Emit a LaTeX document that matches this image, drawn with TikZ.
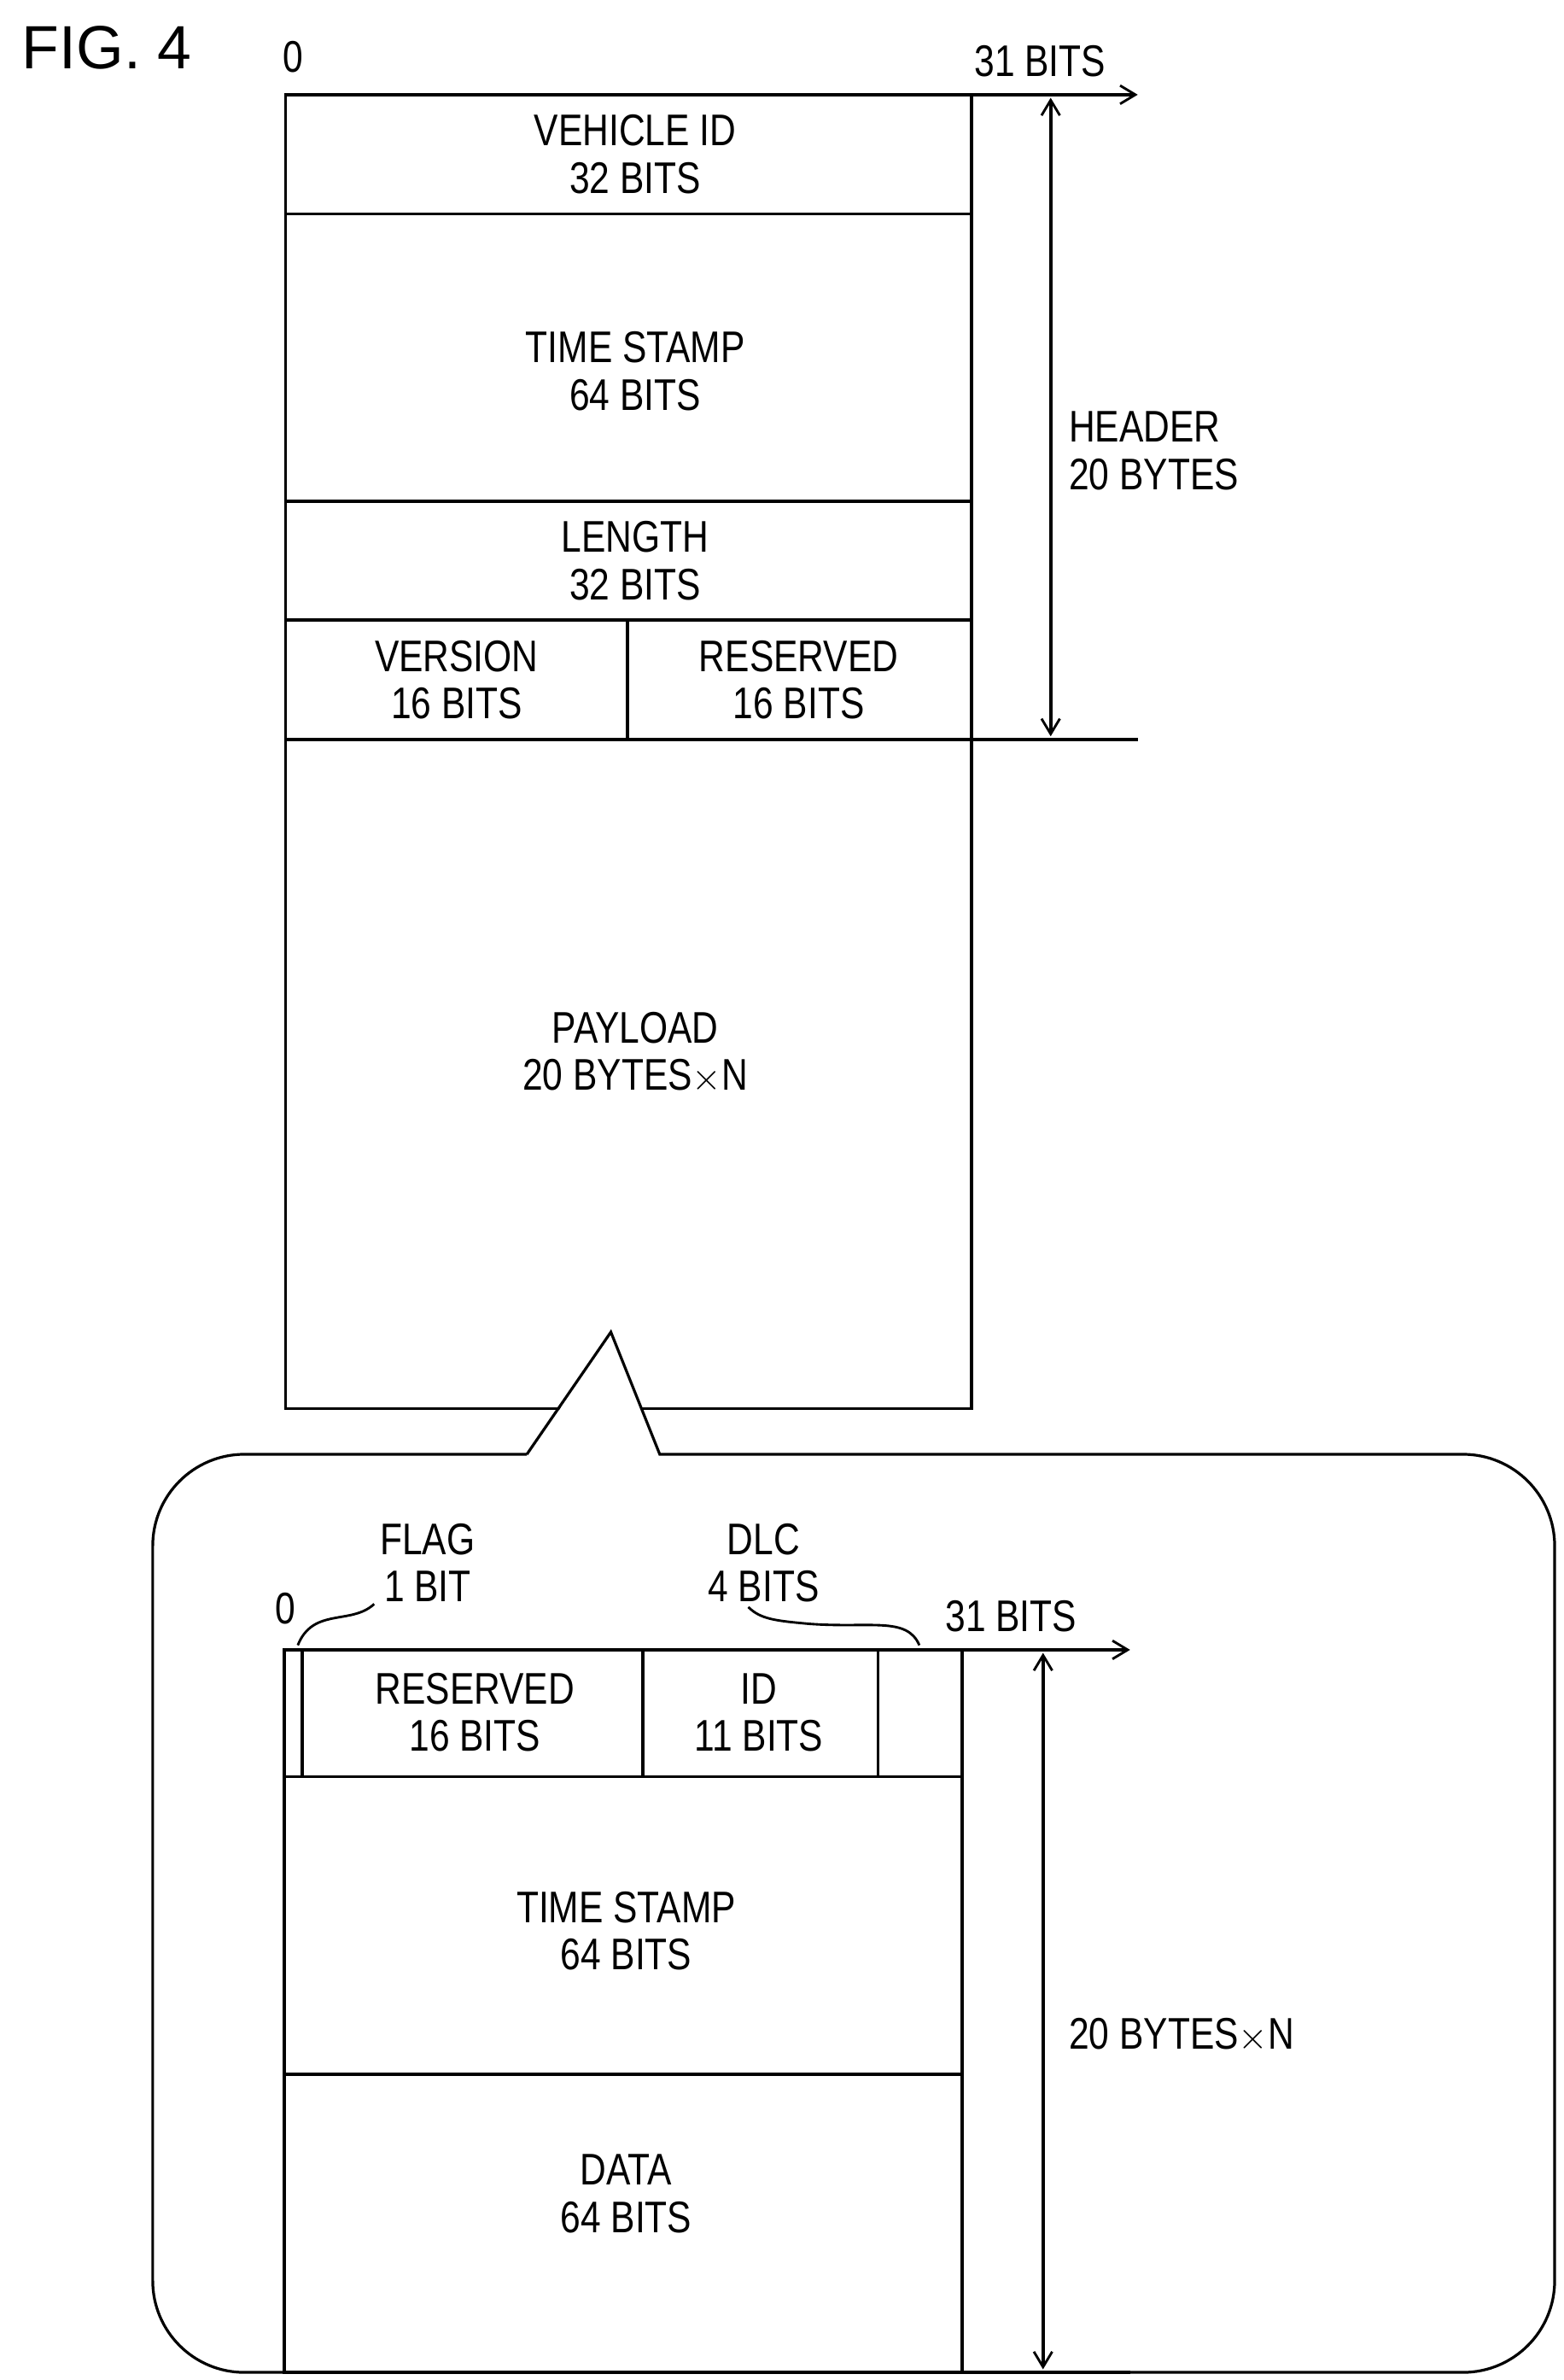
\documentclass[tikz,border=0pt]{standalone}
\usepackage{fontspec}
\setmainfont{Liberation Sans}
\newfontfamily\narrowf[FakeStretch=0.82]{Liberation Sans}
\usetikzlibrary{arrows.meta}
\begin{document}
\begin{tikzpicture}[x=1pt,y=-1pt,line width=2pt,
  lbl/.style={font=\narrowf\fontsize{29}{31}\selectfont,align=center,inner sep=0},
  arr/.style={-{Straight Barb[length=10pt,width=12pt,line width=1.6pt]}},
  darr/.style={{Straight Barb[length=10pt,width=12pt,line width=1.6pt]}-{Straight Barb[length=10pt,width=12pt,line width=1.6pt]}}]
\useasboundingbox (0,0) rectangle (1024,1558);
\node[font=\fontsize{40}{42}\selectfont,inner sep=0] (fig) at (70,31) {FIG. 4};
% top frame
\node[lbl] (z1) at (192,37) {0};
\node[lbl] (b31) at (681,40) {31 BITS};
\draw (187,62) rectangle (636,922);
\coordinate (tr) at (636,62); \coordinate (tre) at (745,62);
\draw[arr] (tr) -- (tre);
\draw (187,140) -- (636,140);
\draw (187,328) -- (636,328);
\draw (187,406) -- (636,406);
\draw (187,484) -- (745,484);
\draw (411,406) -- (411,484);
\coordinate (ha) at (688,64); \coordinate (hb) at (688,482);
\draw[darr] (ha) -- (hb);
\node[lbl,align=left,anchor=west] (hdr) at (699,295) {HEADER\\20 BYTES};
\node[lbl] (vid) at (416,101) {VEHICLE ID\\32 BITS};
\node[lbl] (ts) at (416,243) {TIME STAMP\\64 BITS};
\node[lbl] (len) at (416,367) {LENGTH\\32 BITS};
\node[lbl] (ver) at (299,445) {VERSION\\16 BITS};
\node[lbl] (res) at (523,445) {RESERVED\\16 BITS};
\node[lbl] (pay) at (416,689) {PAYLOAD\\20 BYTES$\times$N};
% callout
\fill[white] (345,955) -- (400,872) -- (432,955) -- cycle;
\draw[line width=1.8pt,line join=miter] (345,952) -- (400,872) -- (432,952)
  [rounded corners=60pt] -- (1018,952) -- (1018,1553) -- (100,1553) -- (100,952) [sharp corners] -- (345,952);
% lower frame
\node[lbl] (z2) at (187,1053) {0};
\node[lbl] (b31b) at (662,1058) {31 BITS};
\node[lbl] (flag) at (280,1023) {FLAG\\1 BIT};
\node[lbl] (dlc) at (500,1023) {DLC\\4 BITS};
\draw (186,1080) rectangle (630,1553);
\draw[arr] (630,1080) -- (740,1080);
\draw (630,1553) -- (740,1553);
\draw (186,1163) -- (630,1163);
\draw (186,1358) -- (630,1358);
\draw (198,1080) -- (198,1163);
\draw (421,1080) -- (421,1163);
\draw (575,1080) -- (575,1163);
\draw[line width=1.6pt] (195,1077) .. controls (205,1052) and (230,1064) .. (245,1050);
\draw[line width=1.6pt] (602,1077) .. controls (594,1058) and (570,1066) .. (530,1063) .. controls (508,1061) and (498,1060) .. (490,1052);
\draw[darr] (683,1082) -- (683,1551);
\node[lbl,anchor=west] (n) at (699,1332) {20 BYTES$\times$N};
\node[lbl] (rs2) at (311,1121) {RESERVED\\16 BITS};
\node[lbl] (id) at (497,1121) {ID\\11 BITS};
\node[lbl] (ts2) at (410,1264) {TIME STAMP\\64 BITS};
\node[lbl] (dat) at (410,1436) {DATA\\64 BITS};
\end{tikzpicture}
\end{document}
